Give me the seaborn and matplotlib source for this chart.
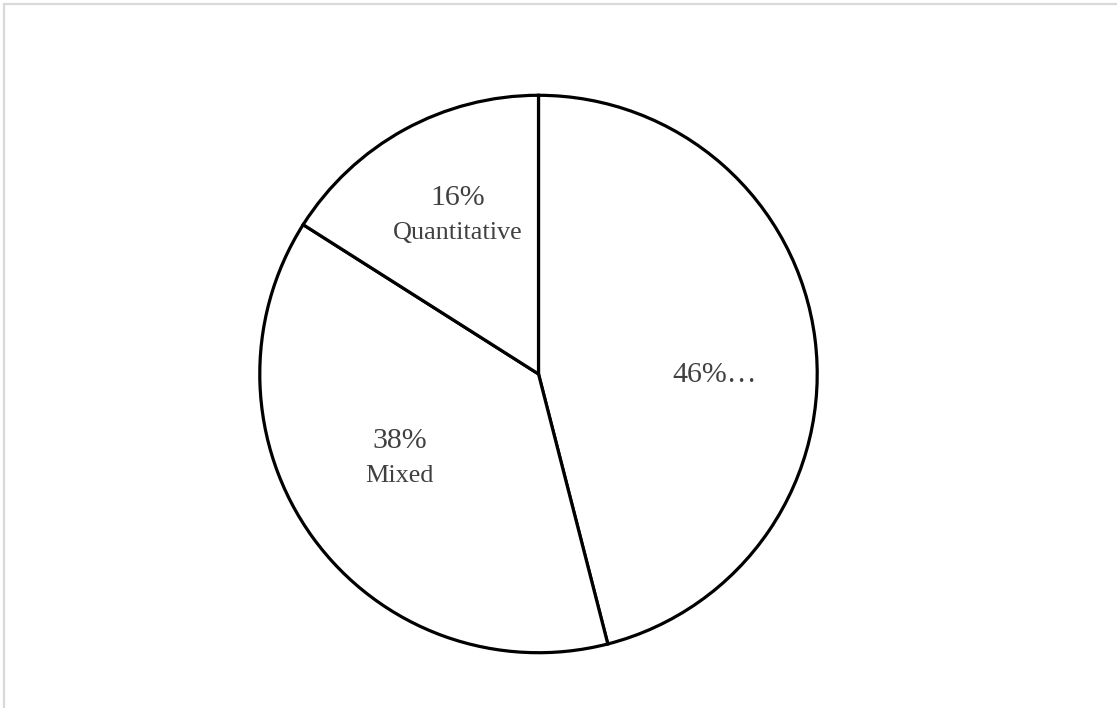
import matplotlib
matplotlib.use("Agg")
import matplotlib.pyplot as plt
import seaborn as sns
import numpy as np
from matplotlib.patches import Rectangle

sns.set_theme(style="white")
plt.rcParams['font.family'] = ['Liberation Serif', 'DejaVu Serif']

categories = ["", "Mixed", "Quantitative"]
values = [46, 38, 16]
pct_labels = ["46%\u2026", "38%", "16%"]

# label placement (style): distance from centre along mid-angle, plus a nudge
label_dist = [0.63, 0.58, 0.645]
label_nudge = [(0.008, -0.083), (-0.03, 0.037), (0.021, 0.003)]

W, H = 1117, 708
fig = plt.figure(figsize=(W / 100, H / 100), dpi=100)
fig.patch.set_facecolor("white")

# light gray frame
fig.patches.append(Rectangle((4 / W, -0.1), 1.2, (H - 4) / H + 0.1, transform=fig.transFigure,
                             fill=False, edgecolor="#d9d9d9", linewidth=1.6, zorder=0))

R = 281.5
cx, cy = 538.5, H - 374
ax = fig.add_axes([(cx - R) / W, (cy - R) / H, 2 * R / W, 2 * R / H])
wedges, _ = ax.pie(values, startangle=90, counterclock=False, radius=1,
                   colors=["white"] * 3,
                   wedgeprops=dict(edgecolor="black", linewidth=2.3))
ax.set_xlim(-1.01, 1.01)
ax.set_ylim(-1.01, 1.01)
ax.set_aspect("equal")
ax.axis("off")

for w, pl, cat, d, (nx, ny) in zip(wedges, pct_labels, categories, label_dist, label_nudge):
    ang = np.deg2rad((w.theta1 + w.theta2) / 2)
    x, y = d * np.cos(ang) + nx, d * np.sin(ang) + ny
    if cat:
        ax.text(x, y + 0.062, pl, ha="center", va="center", fontsize=21.5, color="#404040")
        ax.text(x, y - 0.062, cat, ha="center", va="center", fontsize=18.8, color="#404040")
    else:
        ax.text(x, y, pl, ha="center", va="center", fontsize=21.5, color="#404040")

fig.savefig("out.png", dpi=100)
